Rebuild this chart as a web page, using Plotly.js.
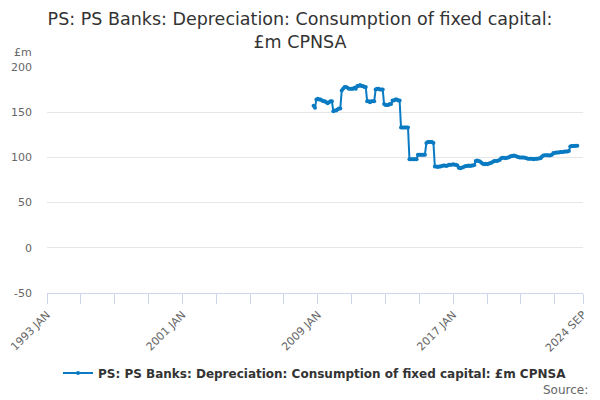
<!DOCTYPE html>
<html>
<head>
<meta charset="utf-8">
<script src="https://cdn.plot.ly/plotly-3.0.1.min.js"></script>
<style>
  html, body { margin: 0; padding: 0; background: #fff; }
  #chart { width: 600px; height: 400px; }
</style>
</head>
<body>
<div id="chart"></div>
<script>
// monthly values, £m, starting 2008 OCT
const firstYear = 2008;
const firstMonth = 10;
const values = [
    157, 155, 164,                                                     // 2008 Oct-Dec
    165, 164, 164, 163, 162, 162, 161, 160, 161, 162, 162, 151,         // 2009
    152, 152, 153, 154, 154, 174, 176, 178, 178, 177, 176, 176,         // 2010
    176, 176, 177, 176, 179, 179, 180, 179, 179, 178, 178, 162,         // 2011
    162, 161, 162, 162, 162, 175, 176, 176, 175, 175, 175, 159,         // 2012
    158, 158, 158, 159, 159, 163, 163, 164, 164, 163, 163, 133,         // 2013
    133, 133, 133, 133, 133, 98, 98, 98, 98, 98, 98, 103,               // 2014
    103, 103, 103, 103, 103, 116, 117, 117, 117, 117, 116, 90,          // 2015
    90, 89.5, 90, 90, 90.5, 91, 91, 90.5, 91, 92, 92, 92,               // 2016
    92.5, 92, 92, 91, 88.5, 88, 88.5, 89, 90, 90.5, 90.5, 91,           // 2017
    90.5, 91, 91, 91.5, 96, 96.5, 96, 95.5, 94, 93, 92.5, 93,           // 2018
    92.5, 93, 93.5, 94, 95, 96, 96, 96, 96.5, 97, 99, 99.5,             // 2019
    99.5, 99, 99.5, 100, 100.5, 101.5, 101.5, 102, 101.5, 101, 100.5, 100, // 2020
    100, 100, 100, 99.5, 99, 98.5, 98.5, 98.5, 98.5, 98, 98.5, 98.5,    // 2021
    98.5, 99, 99, 101, 102, 102.5, 102.5, 102.5, 102, 102.5, 103, 105,  // 2022
    105, 105.5, 105.5, 105.5, 106, 106, 106, 106.5, 106.5, 106.5, 107, 112, // 2023
    112.5, 112.5, 112.5, 113, 113                                       // 2024 Jan-May
];

const tickYears = [1993, 1995, 1997, 1999, 2001, 2003, 2005, 2007, 2009,
    2011, 2013, 2015, 2017, 2019, 2021, 2023];
const labelYears = [1993, 2001, 2009, 2017];
const lastTick = '2024-09-01';
const lastTickLabel = '2024 SEP';

const yTicks = [-50, 0, 50, 100, 150, 200];
const yTickLabels = ['-50', '0', '50', '100', '150', '200'];

const seriesName = 'PS: PS Banks: Depreciation: Consumption of fixed capital: £m CPNSA';

function pad(n) { return n < 10 ? '0' + n : '' + n; }

const dates = values.map((v, i) => {
    const m = firstMonth - 1 + i;
    return (firstYear + Math.floor(m / 12)) + '-' + pad(m % 12 + 1) + '-01';
});

const tickvals = tickYears.map(y => y + '-01-01').concat([lastTick]);
const ticktext = tickYears.map(y => labelYears.includes(y) ? y + ' JAN' : '').concat([lastTickLabel]);

const blue = '#0a7bc2';

const trace = {
    x: dates,
    y: values,
    type: 'scatter',
    mode: 'lines+markers',
    name: seriesName,
    line: { color: blue, width: 2 },
    marker: { color: blue, size: 4 },
    hoverinfo: 'x+y'
};

const layout = {
    width: 600,
    height: 400,
    margin: { l: 47, r: 17, t: 67, b: 107 },
    paper_bgcolor: '#fff',
    plot_bgcolor: '#fff',
    font: { family: 'DejaVu Sans, sans-serif', color: '#666', size: 11 },
    title: {
        text: 'PS: PS Banks: Depreciation: Consumption of fixed capital:<br>£m CPNSA',
        font: { family: 'DejaVu Sans, sans-serif', size: 17.5, color: '#333' },
        x: 0.5, xanchor: 'center',
        yref: 'container',
        y: 0.938, yanchor: 'middle'
    },
    xaxis: {
        type: 'date',
        range: ['1993-01-01', lastTick],
        tickmode: 'array',
        tickvals: tickvals,
        ticktext: ticktext,
        tickangle: -45,
        ticks: 'outside',
        ticklen: 10,
        tickcolor: '#ccd6eb',
        showline: true,
        linecolor: '#ccd6eb',
        linewidth: 1,
        showgrid: false,
        zeroline: false,
        tickfont: { size: 11, color: '#666' }
    },
    yaxis: {
        range: [-50, 200],
        tickmode: 'array',
        tickvals: yTicks,
        ticktext: yTickLabels,
        showgrid: true,
        gridcolor: '#e6e6e6',
        zeroline: false,
        showline: false,
        ticks: '',
        ticklabelstandoff: 14,
        tickfont: { size: 11, color: '#666' }
    },
    showlegend: true,
    legend: {
        orientation: 'h',
        x: 0.5, xanchor: 'center',
        y: -0.354, yanchor: 'middle',
        font: { size: 12, color: '#333', family: 'DejaVu Sans, sans-serif', weight: 'bold' }
    },
    annotations: [
        {
            text: '£m', xref: 'paper', yref: 'paper',
            x: -0.066, y: 1.066, xanchor: 'left', yanchor: 'middle',
            showarrow: false, font: { size: 11, color: '#666' }
        },
        {
            text: 'Source:', xref: 'paper', yref: 'paper',
            x: 1.013, y: -0.43, xanchor: 'right', yanchor: 'middle',
            showarrow: false, font: { size: 12, color: '#666' }
        }
    ]
};

Plotly.newPlot('chart', [trace], layout, { displayModeBar: false, staticPlot: true });
</script>
</body>
</html>
